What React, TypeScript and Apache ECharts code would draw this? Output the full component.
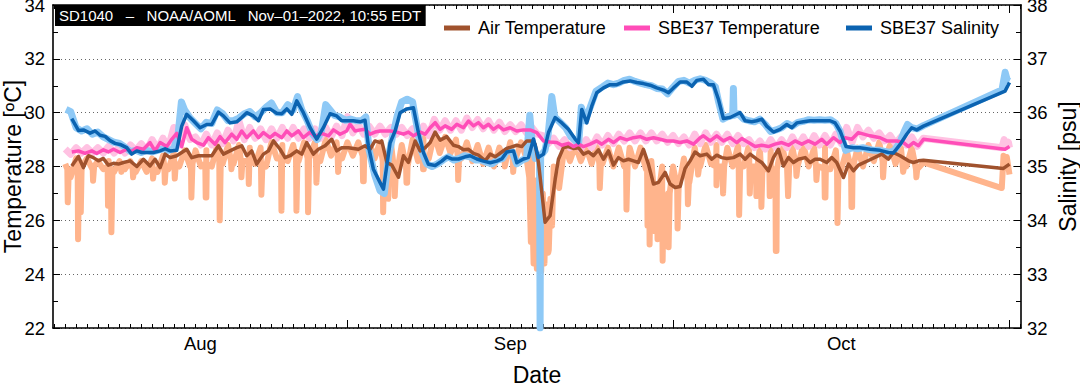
import React, { useEffect, useRef } from "react";
import * as echarts from "echarts";

const FONT = "'Liberation Sans', Arial, Helvetica, sans-serif";

// x values are days since Aug 1 2022 00:00
const X_MIN = 3.87;
const X_MAX = 93.06;
const monthLabelPos = [17.45, 46, 76.5];
const monthLabels = ["Aug", "Sep", "Oct"];
const monthStarts = [31, 61, 92];
const dayTicks = Array.from({ length: 90 }, (_, i) => i + 4);

const titleText = "SD1040   –   NOAA/AOML   Nov–01–2022, 10:55 EDT";

// Smoothed series [day, value]
const airSmooth = [[5.6,28.02],[6.21,28.37],[6.67,27.96],[7.13,28.4],[7.59,28.33],[8.05,28.21],[8.51,28.3],[8.97,28.05],[9.44,28.12],[9.9,28.09],[10.36,28.15],[10.97,28.21],[11.59,28.0],[12.2,28.27],[12.81,28.02],[13.27,28.27],[13.74,27.96],[14.2,28.46],[14.66,28.33],[15.27,28.4],[15.73,28.52],[16.19,28.64],[16.65,28.33],[17.27,28.4],[17.73,28.4],[18.5,28.4],[19.11,28.77],[19.57,28.46],[20.18,28.58],[20.8,28.7],[21.26,28.77],[21.72,28.4],[22.18,28.58],[22.64,28.09],[23.26,28.46],[23.72,28.58],[24.18,28.95],[24.79,28.64],[25.25,28.33],[25.71,28.4],[26.33,28.58],[26.79,28.46],[27.25,28.89],[27.86,28.46],[28.32,28.64],[28.94,28.77],[29.55,29.01],[30.01,28.58],[30.47,28.7],[31.09,28.7],[31.55,28.67],[32.01,28.64],[32.62,28.77],[33.08,28.64],[33.54,28.95],[34.01,28.89],[34.16,28.95],[34.63,28.15],[35.09,28.05],[35.7,27.6],[36.16,28.4],[36.62,28.15],[37.24,28.95],[37.7,28.58],[38.16,28.7],[38.62,28.89],[39.08,29.28],[39.54,28.98],[40.15,29.11],[40.77,28.79],[41.23,28.74],[41.69,28.62],[42.15,28.64],[42.61,28.49],[43.07,28.42],[43.69,28.21],[44.15,28.46],[44.61,28.36],[45.22,28.54],[45.68,28.67],[46.14,28.73],[46.6,28.79],[47.06,28.74],[47.52,28.95],[47.99,28.95],[48.29,28.83],[48.6,28.15],[48.91,27.04],[49.21,25.93],[49.67,26.17],[50.14,27.53],[50.44,28.27],[50.9,28.7],[51.36,28.74],[51.82,28.67],[52.29,28.7],[52.75,28.46],[53.21,28.54],[53.67,28.4],[54.13,28.62],[54.59,28.27],[55.05,28.58],[55.51,28.05],[55.97,28.33],[56.43,28.21],[56.89,28.27],[57.35,28.21],[57.81,28.15],[58.27,28.64],[58.73,28.09],[59.2,27.35],[59.66,27.41],[60.27,27.78],[60.73,27.35],[61.19,27.22],[61.65,27.26],[62.11,27.93],[62.57,28.21],[63.03,28.54],[63.49,28.4],[64.11,28.46],[64.57,28.27],[65.03,28.42],[65.49,28.33],[65.95,28.3],[66.56,28.33],[67.18,28.46],[67.64,28.27],[68.1,28.46],[68.71,28.27],[69.17,28.15],[69.79,27.84],[70.25,28.33],[70.71,28.64],[71.17,28.02],[71.63,28.33],[72.09,28.15],[72.55,28.27],[73.17,28.33],[73.63,28.15],[74.09,28.27],[74.55,28.27],[75.16,28.15],[75.62,28.33],[76.08,28.15],[76.7,27.59],[77.16,28.09],[77.62,27.84],[78.08,28.05],[79.15,28.25],[80.23,28.46],[80.84,28.27],[81.3,28.52],[81.92,28.4],[82.69,28.21],[83.15,28.15],[83.61,28.21],[84.07,28.23],[91.44,27.93],[92.0,28.09]];

const sbeTempSmooth = [[5.6,28.54],[6.21,28.58],[6.82,28.49],[7.44,28.58],[7.9,28.48],[8.51,28.62],[8.97,28.54],[9.44,28.64],[10.05,28.52],[10.66,28.64],[11.12,28.56],[11.59,28.7],[12.2,28.64],[12.81,28.89],[13.27,28.58],[13.74,28.89],[14.35,28.74],[14.81,29.01],[15.27,29.23],[15.73,28.74],[16.19,29.44],[16.65,29.01],[17.11,28.89],[17.73,28.79],[18.19,29.07],[18.8,28.83],[19.26,29.11],[19.72,28.89],[20.34,29.2],[20.8,29.01],[21.26,29.32],[21.72,29.07],[22.33,29.32],[22.8,29.07],[23.26,29.26],[23.87,29.07],[24.33,29.23],[24.95,29.07],[25.41,29.32],[25.87,29.14],[26.48,29.32],[26.94,29.07],[27.56,29.28],[28.02,29.11],[28.63,29.23],[29.25,29.14],[29.71,29.36],[30.32,29.2],[30.93,29.32],[31.24,29.57],[31.7,29.32],[32.16,29.36],[32.62,29.38],[33.08,29.2],[33.54,29.28],[34.01,29.32],[34.93,29.32],[35.55,29.28],[36.16,29.2],[36.62,29.28],[37.08,29.14],[37.7,29.28],[38.16,29.2],[38.62,29.44],[39.08,29.63],[39.54,29.38],[40.0,29.51],[40.61,29.38],[41.08,29.57],[41.69,29.44],[42.15,29.69],[42.61,29.51],[43.07,29.63],[43.53,29.44],[43.99,29.57],[44.45,29.38],[44.91,29.51],[45.38,29.36],[45.99,29.44],[46.6,29.32],[47.22,29.36],[47.83,29.36],[48.45,29.26],[49.06,28.95],[49.67,28.91],[50.29,28.89],[50.75,28.79],[51.36,28.86],[51.82,28.74],[52.29,28.83],[52.75,28.74],[53.36,28.83],[53.97,28.95],[54.44,28.83],[55.05,29.01],[55.51,28.89],[56.12,29.07],[56.74,28.99],[57.35,29.07],[57.97,29.11],[58.58,29.01],[59.2,29.07],[59.81,29.01],[60.42,28.95],[61.04,28.95],[61.65,28.89],[62.27,28.95],[62.88,28.83],[63.5,29.07],[63.8,29.14],[64.41,28.95],[65.03,29.14],[65.64,28.95],[66.26,29.07],[66.87,28.89],[67.33,29.04],[67.95,28.89],[68.56,28.74],[69.17,28.79],[69.79,28.74],[70.4,28.83],[71.02,28.89],[71.63,28.79],[72.24,28.95],[72.86,28.83],[73.47,28.95],[74.09,28.83],[74.7,29.01],[75.16,28.83],[75.78,29.07],[76.39,28.89],[76.85,29.07],[77.47,29.01],[78.08,29.26],[79.15,29.14],[80.08,29.07],[80.69,28.95],[81.61,28.95],[82.23,28.89],[82.69,28.74],[83.15,28.89],[83.61,28.77],[84.07,29.01],[91.59,28.64],[92.0,28.74]];

const salSmooth = [[5.6,35.89],[6.21,35.67],[6.67,35.68],[7.29,35.62],[7.75,35.66],[8.21,35.58],[8.67,35.56],[9.13,35.48],[9.59,35.43],[10.05,35.41],[10.66,35.35],[11.12,35.23],[11.59,35.29],[12.05,35.26],[12.51,35.26],[13.12,35.26],[13.74,35.29],[14.2,35.33],[14.66,35.29],[15.27,35.3],[15.73,35.75],[16.19,35.97],[16.81,35.85],[17.42,35.72],[18.03,35.78],[18.5,35.78],[19.11,36.01],[19.57,35.94],[20.18,35.81],[20.8,35.83],[21.26,35.91],[21.72,36.0],[22.33,35.94],[22.8,35.85],[23.26,36.06],[23.87,36.07],[24.48,35.99],[24.95,35.98],[25.41,36.07],[25.87,35.97],[26.33,36.22],[26.94,36.0],[27.56,35.72],[28.17,35.51],[28.78,35.72],[29.4,35.98],[30.01,35.94],[30.47,35.85],[31.09,35.85],[31.55,35.85],[32.16,35.83],[32.62,35.86],[32.93,35.38],[33.39,34.95],[34.01,34.7],[34.32,34.58],[34.93,35.44],[35.39,35.66],[35.85,36.0],[36.47,36.07],[37.08,36.09],[37.54,35.63],[38.0,35.26],[38.46,35.04],[39.08,35.02],[39.69,35.1],[40.15,35.18],[40.61,35.14],[41.23,35.14],[41.84,35.18],[42.3,35.2],[42.92,35.14],[43.53,35.1],[44.15,35.07],[44.76,35.1],[45.22,35.14],[45.68,35.27],[46.3,35.29],[46.6,35.07],[47.22,35.14],[47.68,35.17],[48.14,35.51],[48.6,35.17],[49.06,35.23],[49.52,35.63],[50.14,35.91],[50.75,35.81],[51.36,35.69],[51.98,35.51],[52.29,35.44],[52.59,36.06],[53.05,35.81],[53.51,36.12],[53.97,36.37],[54.59,36.46],[55.2,36.52],[55.82,36.52],[56.43,36.57],[57.05,36.59],[57.66,36.56],[58.27,36.54],[58.89,36.51],[59.5,36.46],[60.12,36.42],[60.58,36.37],[61.04,36.46],[61.65,36.57],[62.27,36.57],[62.73,36.49],[63.19,36.6],[63.8,36.62],[64.26,36.52],[64.72,36.52],[65.18,36.25],[65.64,35.89],[66.26,35.91],[66.87,35.97],[67.18,36.0],[67.64,35.85],[68.25,35.83],[68.71,35.85],[69.17,35.88],[69.63,35.75],[70.25,35.64],[70.86,35.69],[71.48,35.78],[71.94,35.72],[72.4,35.81],[73.01,35.83],[73.63,35.85],[74.24,35.85],[74.86,35.85],[75.47,35.85],[75.93,35.81],[76.39,35.66],[76.94,35.37],[77.62,35.35],[78.23,35.35],[79.15,35.32],[80.08,35.3],[80.84,35.26],[81.3,35.25],[81.92,35.41],[82.53,35.6],[82.99,35.72],[83.45,35.68],[84.07,35.75],[91.59,36.4],[92.0,36.56]];

// Raw air temperature: daily [day, high, low] of the diurnal band
const airRawDaily = [[5,28.1,27.6],[6,28.3,27.8],[7,28.3,27.9],[8,28.2,27.9],[9,28.2,27.8],[10,28.2,27.9],[11,28.2,27.8],[12,28.2,27.8],[13,28.3,27.8],[14,28.4,27.9],[15,28.5,28.0],[16,28.6,28.0],[17,28.6,28.0],[18,28.6,28.0],[19,28.8,28.1],[20,28.8,28.1],[21,28.8,28.2],[22,28.7,28.1],[23,28.7,28.0],[24,28.9,28.3],[25,28.8,28.2],[26,28.8,28.2],[27,28.9,28.3],[28,28.9,28.2],[29,29.0,28.4],[30,28.9,28.3],[31,28.9,28.4],[32,28.9,28.3],[33,28.9,28.3],[34,28.9,28.0],[35,28.9,27.6],[36,28.8,27.8],[37,29.0,28.2],[38,29.1,28.3],[39,29.2,28.5],[40,29.1,28.5],[41,29.0,28.3],[42,28.9,28.2],[43,28.8,28.1],[44,28.7,28.0],[45,28.7,28.1],[46,28.9,28.3],[47,28.9,28.3],[48,28.8,27.5],[49,27.0,24.8],[50,28.0,27.2],[51,28.8,28.2],[52,28.8,28.2],[53,28.7,28.1],[54,28.8,28.1],[55,28.7,28.0],[56,28.7,28.0],[57,28.7,28.0],[58,28.7,27.9],[59,28.2,26.8],[60,28.0,26.5],[61,28.0,27.0],[62,28.3,27.4],[63,28.7,28.0],[64,28.8,28.1],[65,28.8,28.0],[66,28.7,28.0],[67,28.8,28.0],[68,28.8,28.0],[69,28.7,27.9],[70,28.7,27.9],[71,28.8,28.0],[72,28.7,28.0],[73,28.8,28.0],[74,28.7,28.0],[75,28.7,27.9],[76,28.6,27.9],[77,28.6,27.8],[78,28.7,28.0],[79,28.8,28.2],[80,28.9,28.2],[81,28.8,28.1],[82,28.7,28.0],[83,28.7,27.9]];
// Rain drops: [day, band level, bottom of drop]
const airRawDrops = [[5.26,27.9,26.67],[6.21,28.0,25.3],[6.46,28.0,26.3],[7.59,28.0,27.47],[8.97,28.0,26.54],[9.28,27.9,25.56],[10.2,28.0,27.8],[11.28,27.9,27.6],[13.12,27.9,27.55],[14.2,28.0,27.4],[15.12,28.1,27.55],[16.65,28.1,26.85],[17.97,28.1,26.85],[19.26,28.2,26.0],[20.34,28.2,27.9],[21.26,28.2,27.6],[21.94,28.2,27.35],[23.1,28.1,26.95],[24.95,28.3,26.36],[26.33,28.3,26.36],[27.4,28.3,26.3],[28.17,28.3,27.4],[30.17,28.4,27.8],[32.47,28.4,27.45],[34.32,28.2,26.3],[34.78,28.0,26.8],[35.39,27.8,26.9],[36.47,28.0,27.4],[38.0,28.4,27.9],[41.23,28.4,27.5],[45.53,28.2,28.0],[46.3,28.3,27.8],[54.28,28.1,27.2],[56.74,28.0,26.4],[58.68,27.9,25.8],[58.87,27.5,25.1],[59.33,27.0,25.6],[59.6,27.0,25.3],[60.07,26.8,24.5],[60.62,27.0,25.0],[61.45,27.2,25.7],[62.4,27.5,26.6],[63.34,28.0,27.7],[65.03,28.0,27.3],[65.64,28.0,27.0],[67.12,28.0,26.2],[68.1,28.0,27.0],[68.71,28.0,26.9],[69.17,27.9,26.5],[69.94,27.9,26.9],[70.5,27.9,24.86],[71.63,28.0,26.9],[72.4,28.0,27.65],[74.24,28.0,27.5],[75.01,27.9,26.85],[76.18,27.9,25.9],[77.47,27.9,26.5],[80.38,28.2,27.6],[82.23,28.0,27.8],[83.45,27.9,27.6]];
// Storm passage (early September) and the last stretch
const airRawStorm = [[47.75,27.6],[47.9,25.2],[48.0,27.2],[48.15,24.4],[48.3,26.5],[48.45,24.2],[48.55,26.0],[48.65,25.0],[48.75,26.2],[48.85,24.1],[49.05,26.5],[49.15,24.4],[49.25,26.0],[49.35,25.5],[49.45,26.6],[49.55,24.9],[49.7,26.8],[49.85,25.8]];
const airRawTail = [[84.07,28.15],[91.29,27.2],[91.45,28.4],[91.6,28.0],[91.75,28.35],[92.0,27.7]];

// Raw SBE37 temperature: daily [day, high, low] and the last stretch
const sbeTempRawDaily = [[5,28.65,28.45],[6,28.7,28.5],[7,28.7,28.5],[8,28.7,28.5],[9,28.75,28.5],[10,28.75,28.5],[11,28.8,28.6],[12,28.85,28.6],[13,29.0,28.65],[14,29.05,28.7],[15,29.45,28.8],[16,29.55,29.0],[17,29.1,28.8],[18,29.2,28.8],[19,29.25,28.85],[20,29.35,28.95],[21,29.7,29.0],[22,29.45,29.05],[23,29.4,29.0],[24,29.4,29.05],[25,29.45,29.05],[26,29.45,29.05],[27,29.4,29.05],[28,29.4,29.05],[29,29.45,29.1],[30,29.5,29.15],[31,29.85,29.25],[32,29.55,29.2],[33,29.5,29.2],[34,29.5,29.2],[35,29.45,29.2],[36,29.45,29.15],[37,29.4,29.1],[38,29.5,29.15],[39,29.75,29.35],[40,29.7,29.35],[41,29.7,29.35],[42,29.8,29.45],[43,29.75,29.4],[44,29.7,29.35],[45,29.65,29.3],[46,29.55,29.3],[47,29.55,29.25],[48,29.45,29.2],[49,29.15,28.85],[50,29.05,28.75],[51,29.0,28.7],[52,28.95,28.65],[53,29.0,28.7],[54,29.1,28.8],[55,29.15,28.85],[56,29.2,28.95],[57,29.25,28.95],[58,29.25,28.95],[59,29.25,28.95],[60,29.2,28.9],[61,29.15,28.85],[62,29.1,28.8],[63,29.2,28.85],[64,29.25,28.9],[65,29.2,28.9],[66,29.2,28.85],[67,29.15,28.85],[68,29.0,28.7],[69,28.95,28.65],[70,29.0,28.7],[71,29.0,28.7],[72,29.1,28.75],[73,29.1,28.75],[74,29.15,28.8],[75,29.15,28.8],[76,29.2,28.85],[77,29.45,28.9],[78,29.45,29.1],[79,29.35,29.05],[80,29.25,28.95],[81,29.15,28.85],[82,29.1,28.8],[83,29.1,28.75]];
const sbeTempRawTail = [[84.07,29.05],[91.3,28.7],[91.5,29.0],[91.7,28.75],[91.9,28.9],[92.0,28.7]];

// Raw SBE37 salinity
const salRaw = [[5.07,36.06],[5.5,36.02],[6.0,35.72],[6.5,35.66],[7.0,35.7],[7.5,35.6],[8.0,35.64],[8.5,35.55],[9.0,35.5],[9.5,35.45],[10.0,35.43],[10.5,35.36],[11.0,35.28],[11.5,35.3],[12.0,35.26],[12.5,35.3],[13.0,35.27],[13.5,35.3],[14.0,35.33],[14.5,35.3],[15.0,35.33],[15.4,35.6],[15.7,36.2],[16.0,36.05],[16.5,35.9],[17.0,35.8],[17.5,35.7],[18.0,35.82],[18.5,35.8],[19.0,36.05],[19.5,35.98],[20.0,35.85],[20.5,35.85],[21.0,35.9],[21.5,35.98],[22.0,36.02],[22.5,35.92],[23.0,36.0],[23.5,36.1],[24.0,36.18],[24.5,36.0],[25.0,36.0],[25.5,36.15],[26.0,36.05],[26.4,36.3],[26.8,36.05],[27.3,35.85],[27.8,35.6],[28.2,35.5],[28.6,35.65],[29.0,36.15],[29.4,36.05],[29.8,35.95],[30.3,35.92],[30.8,35.86],[31.3,35.88],[31.8,35.85],[32.3,35.85],[32.7,35.92],[33.0,35.3],[33.5,34.85],[34.0,34.55],[34.4,34.5],[34.8,35.2],[35.2,35.6],[35.6,35.95],[36.0,36.2],[36.5,36.25],[37.0,36.2],[37.4,35.75],[37.8,35.3],[38.3,35.05],[38.8,35.0],[39.3,35.05],[39.8,35.12],[40.3,35.18],[40.8,35.12],[41.3,35.15],[41.8,35.2],[42.3,35.18],[42.8,35.12],[43.3,35.12],[43.8,35.08],[44.3,35.05],[44.8,35.12],[45.3,35.15],[45.7,35.3],[46.2,35.27],[46.6,35.05],[47.1,35.12],[47.5,35.15],[47.8,35.95],[48.0,35.5],[48.3,35.15],[48.7,35.2],[48.75,32.0],[48.8,35.2],[49.2,35.3],[49.5,35.6],[49.83,36.3],[50.1,35.92],[50.6,35.82],[51.1,35.72],[51.6,35.55],[52.0,35.48],[52.3,35.42],[52.55,36.1],[52.9,35.85],[53.4,36.12],[53.9,36.4],[54.5,36.48],[55.0,36.55],[55.5,36.52],[56.0,36.55],[56.5,36.6],[57.0,36.62],[57.5,36.58],[58.0,36.55],[58.5,36.52],[59.0,36.5],[59.5,36.45],[60.0,36.44],[60.5,36.35],[61.0,36.47],[61.5,36.58],[62.0,36.6],[62.5,36.55],[63.0,36.6],[63.5,36.63],[64.0,36.6],[64.5,36.55],[64.9,36.48],[65.2,36.2],[65.6,35.88],[66.0,35.92],[66.5,35.95],[66.56,36.45],[66.62,35.95],[67.0,35.98],[67.5,35.88],[68.0,35.85],[68.5,35.83],[69.0,35.88],[69.5,35.78],[70.0,35.65],[70.5,35.68],[71.0,35.72],[71.5,35.8],[72.0,35.75],[72.5,35.82],[73.0,35.84],[73.5,35.87],[74.0,35.86],[74.5,35.87],[75.0,35.86],[75.5,35.87],[76.0,35.8],[76.4,35.65],[76.9,35.3],[77.5,35.35],[78.0,35.33],[78.5,35.35],[79.0,35.32],[79.5,35.3],[80.0,35.3],[80.5,35.28],[81.0,35.26],[81.4,35.3],[81.9,35.45],[82.3,35.65],[82.6,35.78],[83.0,35.72],[83.5,35.7],[84.07,35.76],[91.3,36.42],[91.6,36.75],[91.8,36.6],[92.0,36.58]];

const COLORS = {
  airRaw: "#ffb48c",
  air: "#a0522d",
  tempRaw: "#ffc2e2",
  temp: "#ff4db8",
  salRaw: "#8ec9f6",
  sal: "#0b63b1",
};

function zigzag(rows: number[][]): number[][] {
  const out: number[][] = [];
  rows.forEach(([d, hi, lo]) => {
    out.push([d, hi]);
    out.push([d + 0.5, lo]);
  });
  return out;
}
function drops(rows: number[][]): number[][] {
  const out: number[][] = [];
  rows.forEach(([d, top, bottom]) => {
    out.push([d - 0.07, top]);
    out.push([d - 0.03, bottom]);
    out.push([d + 0.03, bottom]);
    out.push([d + 0.07, top]);
  });
  return out;
}
const byDay = (a: number[], b: number[]) => a[0] - b[0];

export default function App() {
  const ref = useRef<HTMLDivElement>(null);
  useEffect(() => {
    if (!ref.current) return;
    const chart = echarts.init(ref.current, undefined, { renderer: "svg" });

    const airRaw = [...zigzag(airRawDaily), ...drops(airRawDrops), ...airRawStorm, ...airRawTail].sort(byDay);
    const tempRaw = [...zigzag(sbeTempRawDaily), ...sbeTempRawTail].sort(byDay);

    const black = "#000";
    const labelStyle = { color: black, fontSize: 18.5, fontFamily: FONT };
    const axisLine = { show: true, onZero: false, lineStyle: { color: black, width: 1.6 } };
    const nameStyle = { color: black, fontSize: 23, fontFamily: FONT, lineHeight: 23 };

    const xBase = {
      type: "value" as const,
      min: X_MIN,
      max: X_MAX,
      gridIndex: 0,
      splitLine: { show: false },
    };

    const legendBase = {
      top: 19,
      padding: 0,
      icon: "rect",
      itemWidth: 26,
      itemHeight: 5,
      selectedMode: false,
      textStyle: { color: black, fontSize: 18, fontFamily: FONT, padding: [0, 0, 0, 3] },
    };

    const line = (name: string, data: number[][], color: string, width: number, yIdx: number, z: number) => ({
      name,
      type: "line",
      data,
      yAxisIndex: yIdx,
      xAxisIndex: 0,
      showSymbol: false,
      symbol: "none",
      color,
      z,
      lineStyle: { color, width, join: "round", cap: "butt" },
      emphasis: { disabled: true },
    });

    chart.setOption({
      animation: false,
      backgroundColor: "#fff",
      title: {
        text: titleText,
        left: 55,
        top: 5,
        backgroundColor: "#000",
        padding: [3, 4, 3, 4],
        textStyle: { color: "#fff", fontSize: 15, fontWeight: "normal", fontFamily: FONT, lineHeight: 15 },
      },
      legend: [
        { ...legendBase, left: 444, data: ["Air Temperature"] },
        { ...legendBase, left: 624, data: ["SBE37 Temperature"] },
        { ...legendBase, left: 846, data: ["SBE37 Salinity"] },
      ],
      grid: { left: 53, right: 59, top: 5, bottom: 59, containLabel: false, outerBoundsMode: "none" },
      xAxis: [
        {
          ...xBase,
          position: "bottom",
          name: "Date",
          nameLocation: "middle",
          nameGap: 35,
          nameMoveOverlap: false,
          nameTextStyle: nameStyle,
          axisLine,
          axisTick: { show: true, inside: true, length: 4, customValues: dayTicks, lineStyle: { color: black, width: 1 } },
          axisLabel: {
            show: true,
            ...labelStyle,
            margin: 6,
            customValues: monthLabelPos,
            formatter: (v: number) => {
              const i = monthLabelPos.findIndex((p) => Math.abs(p - v) < 0.01);
              return i >= 0 ? monthLabels[i] : "";
            },
          },
        },
        {
          ...xBase,
          position: "bottom",
          axisLine: { show: false },
          axisTick: { show: true, inside: true, length: 8, customValues: monthStarts, lineStyle: { color: black, width: 1 } },
          axisLabel: { show: false },
        },
        {
          ...xBase,
          position: "top",
          axisLine,
          axisTick: { show: true, inside: true, length: 4, customValues: dayTicks, lineStyle: { color: black, width: 1 } },
          axisLabel: { show: false },
        },
        {
          ...xBase,
          position: "top",
          axisLine: { show: false },
          axisTick: { show: true, inside: true, length: 8, customValues: monthStarts, lineStyle: { color: black, width: 1 } },
          axisLabel: { show: false },
        },
      ],
      yAxis: [
        {
          type: "value",
          position: "left",
          min: 22,
          max: 34,
          interval: 2,
          name: "Temperature [ºC]",
          nameLocation: "middle",
          nameGap: 29,
          nameMoveOverlap: false,
          nameTextStyle: nameStyle,
          axisLine,
          axisTick: { show: true, inside: true, length: 7, lineStyle: { color: black } },
          minorTick: { show: true, splitNumber: 2, length: 5, lineStyle: { color: black } },
          splitLine: { show: true, lineStyle: { color: "#666", type: [1, 3], width: 1 } },
          axisLabel: { ...labelStyle, margin: 8 },
        },
        {
          type: "value",
          position: "right",
          min: 32,
          max: 38,
          interval: 1,
          name: "Salinity [psu]",
          nameLocation: "middle",
          nameGap: 35,
          nameMoveOverlap: false,
          nameTextStyle: nameStyle,
          axisLine,
          axisTick: { show: true, inside: true, length: 7, lineStyle: { color: black } },
          minorTick: { show: true, splitNumber: 2, length: 5, lineStyle: { color: black } },
          splitLine: { show: false },
          axisLabel: { ...labelStyle, margin: 6 },
        },
      ],
      series: [
        line("Air Temperature raw", airRaw, COLORS.airRaw, 6, 0, 1),
        line("SBE37 Temperature raw", tempRaw, COLORS.tempRaw, 7, 0, 2),
        line("SBE37 Salinity raw", salRaw, COLORS.salRaw, 7, 1, 3),
        line("Air Temperature", airSmooth, COLORS.air, 3.5, 0, 4),
        line("SBE37 Temperature", sbeTempSmooth, COLORS.temp, 3.5, 0, 5),
        line("SBE37 Salinity", salSmooth, COLORS.sal, 3.5, 1, 6),
      ],
    });

    return () => chart.dispose();
  }, []);

  return (
    <div
      ref={ref}
      style={{ position: "fixed", left: 0, top: 0, width: 1080, height: 387, background: "#fff" }}
    />
  );
}
